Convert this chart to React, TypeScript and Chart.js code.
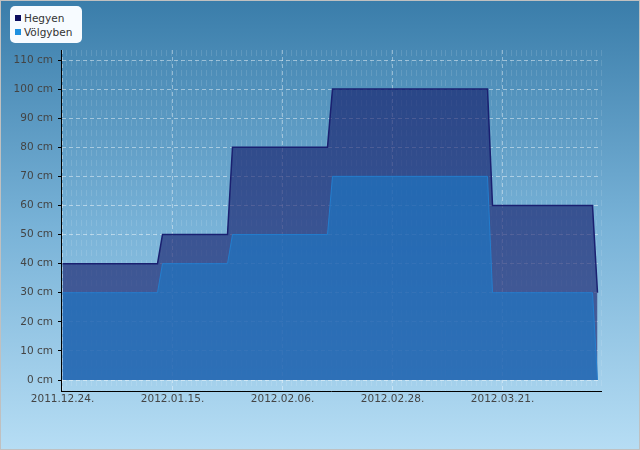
import React, { useEffect, useRef } from 'react';
import { Chart, registerables } from 'chart.js';

Chart.register(...registerables);

// ---- data ----
const seriesNames = ['Hegyen', 'Völgyben'];
const xTickLabels = ['2011.12.24.', '2012.01.15.', '2012.02.06.', '2012.02.28.', '2012.03.21.'];
const xTickStepDays = 22;
// day offsets from 2011.12.24.
const hegyenDays = [0, 19, 20, 33, 34, 53, 54, 85, 86, 106, 107];
const hegyenValues = [40, 40, 50, 50, 80, 80, 100, 100, 60, 60, 30];
const volgybenDays = [0, 19, 20, 33, 34, 53, 54, 85, 86, 106, 107];
const volgybenValues = [30, 30, 40, 40, 50, 50, 70, 70, 30, 30, 0];
const yUnit = ' cm';

const FONT = '"DejaVu Sans", Verdana, sans-serif';

export default function App() {
  const ref = useRef<HTMLCanvasElement | null>(null);

  useEffect(() => {
    document.body.style.margin = '0';
    const canvas = ref.current;
    if (!canvas) return;
    const xMin = -0.3;
    const xMax = 107.7;
    const chart = new Chart(canvas, {
      type: 'line',
      data: {
        datasets: [
          {
            label: seriesNames[1],
            data: volgybenDays.map((d, i) => ({ x: d, y: volgybenValues[i] })),
            fill: 'origin',
            backgroundColor: 'rgba(25,125,205,0.56)',
            borderColor: 'rgba(35,125,205,1)',
            borderWidth: 1,
            pointRadius: 0,
            tension: 0,
          },
          {
            label: seriesNames[0],
            data: hegyenDays.map((d, i) => ({ x: d, y: hegyenValues[i] })),
            fill: 'origin',
            backgroundColor: 'rgba(15,20,100,0.6)',
            borderColor: '#1a2070',
            borderWidth: 1.5,
            pointRadius: 0,
            tension: 0,
          },
        ],
      },
      options: {
        animation: false,
        responsive: true,
        maintainAspectRatio: false,
        events: [],
        layout: { padding: { top: 49, right: 38, left: 0, bottom: 0 } },
        plugins: { legend: { display: false }, tooltip: { enabled: false } },
        scales: {
          x: {
            type: 'linear',
            position: 'bottom',
            min: xMin,
            max: xMax,
            afterFit: (s: any) => { s.height = 58; },
            ticks: {
              stepSize: xTickStepDays,
              includeBounds: false,
              autoSkip: false,
              maxRotation: 0,
              padding: 2,
              color: '#444',
              font: { family: FONT, size: 10.5 },
              callback: (v: any) => xTickLabels[Math.round(Number(v) / xTickStepDays)] ?? '',
            },
            grid: { color: 'rgba(255,255,255,0.4)', drawTicks: false, lineWidth: 1 },
            border: { display: true, color: '#000', width: 1, dash: [4, 3] },
          },
          xMinor: {
            type: 'linear',
            position: 'top',
            min: xMin,
            max: xMax,
            afterFit: (s: any) => { s.height = 0; },
            ticks: { display: false, stepSize: 1, includeBounds: false },
            grid: { color: 'rgba(255,255,255,0.12)', drawTicks: false, lineWidth: 1 },
            border: { display: false, dash: [6, 4] },
          },
          y: {
            min: -3.78,
            max: 113.44,
            afterFit: (s: any) => { s.width = 60; },
            ticks: {
              stepSize: 10,
              includeBounds: false,
              padding: 5,
              color: '#444',
              font: { family: FONT, size: 10.5 },
              callback: (v: any) => `${v}${yUnit}`,
            },
            grid: { color: 'rgba(255,255,255,0.45)', tickColor: '#000', tickLength: 3, drawTicks: true, lineWidth: 1 },
            border: { display: true, color: '#000', width: 1, dash: [4, 3] },
          },
        },
      },
    });
    return () => chart.destroy();
  }, []);

  const legendColors = ['#0b0d5e', '#1e90e0'];

  return (
    <div
      style={{
        position: 'fixed',
        left: 0,
        top: 0,
        width: 640,
        height: 450,
        boxSizing: 'border-box',
        border: '1px solid #c0c0c0',
        background: 'linear-gradient(to bottom, rgb(58,125,170) 0%, rgb(120,178,215) 50%, rgb(182,221,244) 100%)',
        overflow: 'hidden',
      }}
    >
      <div style={{ position: 'absolute', left: 0, top: 0, width: 638, height: 448 }}>
        <canvas ref={ref} />
      </div>
      <div
        style={{
          position: 'absolute',
          left: 9,
          top: 5,
          width: 72,
          height: 37,
          background: '#f7fbff',
          borderRadius: 5,
          fontFamily: FONT,
          fontSize: 10.5,
          color: '#333',
        }}
      >
        {seriesNames.map((name, i) => (
          <div key={name} style={{ position: 'absolute', left: 5, top: 5 + i * 14, height: 13, display: 'flex', alignItems: 'center', whiteSpace: 'nowrap' }}>
            <span style={{ display: 'inline-block', width: 6, height: 6, background: legendColors[i], marginRight: 3 }} />
            <span>{name}</span>
          </div>
        ))}
      </div>
    </div>
  );
}
